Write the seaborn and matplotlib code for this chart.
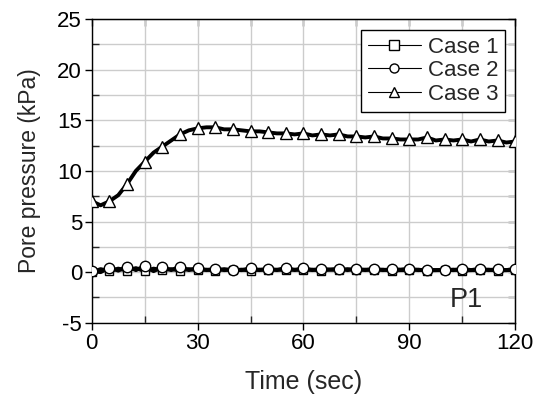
import numpy as np
import pandas as pd
import seaborn as sns
import matplotlib
matplotlib.use("Agg")
import matplotlib.pyplot as plt
from matplotlib.ticker import MultipleLocator

# ---- data ----
time_sec = [0, 2.5, 5, 7.5, 10, 12.5, 15, 17.5, 20, 22.5, 25, 27.5, 30, 32.5, 35, 37.5,
            40, 42.5, 45, 47.5, 50, 52.5, 55, 57.5, 60, 62.5, 65, 67.5, 70, 72.5, 75, 77.5,
            80, 82.5, 85, 87.5, 90, 92.5, 95, 97.5, 100, 102.5, 105, 107.5, 110, 112.5,
            115, 117.5, 120]

case1 = [0.0, 0.3, 0.1, 0.35, 0.15, 0.4, 0.1, 0.35, 0.2, 0.3, 0.15, 0.3, 0.2, 0.25, 0.15, 0.3,
         0.2, 0.25, 0.15, 0.25, 0.2, 0.25, 0.2, 0.25, 0.2, 0.25, 0.15, 0.25, 0.2, 0.3, 0.2, 0.25,
         0.2, 0.25, 0.15, 0.2, 0.2, 0.25, 0.15, 0.2, 0.2, 0.25, 0.15, 0.2, 0.2, 0.25,
         0.15, 0.2, 0.2]

case2 = [0.1, 0.0, 0.45, 0.15, 0.55, 0.2, 0.6, 0.1, 0.5, 0.2, 0.55, 0.2, 0.4, 0.2, 0.35, 0.2,
         0.25, 0.2, 0.4, 0.2, 0.35, 0.2, 0.45, 0.2, 0.4, 0.2, 0.35, 0.25, 0.35, 0.2, 0.35, 0.2,
         0.35, 0.2, 0.3, 0.25, 0.35, 0.2, 0.25, 0.2, 0.25, 0.2, 0.35, 0.2, 0.35, 0.2,
         0.3, 0.2, 0.35]

case3 = [7.0, 6.6, 7.0, 7.6, 8.7, 10.0, 10.9, 11.8, 12.4, 13.0, 13.6, 14.0, 14.2, 14.3, 14.3, 14.1,
         14.1, 14.0, 13.9, 13.9, 13.8, 13.7, 13.7, 13.6, 13.7, 13.5, 13.6, 13.5, 13.6, 13.4, 13.4, 13.3,
         13.4, 13.2, 13.2, 13.1, 13.1, 13.1, 13.3, 13.0, 13.1, 13.0, 13.1, 12.9, 13.1, 12.9,
         13.0, 12.8, 12.9]

labels = ["Case 1", "Case 2", "Case 3"]
markers = ["s", "o", "^"]
x_ticks = [0, 30, 60, 90, 120]
y_ticks = [-5, 0, 5, 10, 15, 20, 25]

df = pd.DataFrame({"time": time_sec, "Case 1": case1, "Case 2": case2, "Case 3": case3})

# ---- style ----
sns.set_style("ticks")
plt.rcParams["font.family"] = ["Liberation Sans", "DejaVu Sans"]
plt.rcParams["axes.unicode_minus"] = False

fig = plt.figure(figsize=(5.4, 4.03), dpi=100)
ax = fig.add_axes([0.170, 0.199, 0.784, 0.754])

msizes = {"s": 6, "o": 7.5, "^": 8.5}
for lab, mk in zip(labels, markers):
    sns.lineplot(data=df, x="time", y=lab, ax=ax, color="black", linewidth=2.8,
                 marker=mk, markersize=msizes[mk], markerfacecolor="white",
                 markeredgecolor="black", markeredgewidth=1.0, markevery=2,
                 label=lab, zorder=3)

ax.set_xlim(0, 120)
ax.set_ylim(-5, 25)
ax.set_xticks(x_ticks)
ax.set_yticks(y_ticks)
ax.xaxis.set_minor_locator(MultipleLocator(15))
ax.yaxis.set_minor_locator(MultipleLocator(2.5))

ax.grid(True, which="both", color="#cccccc", linewidth=1.0, zorder=0)
ax.set_axisbelow(True)

for sp in ax.spines.values():
    sp.set_color("black")
    sp.set_linewidth(1.0)

ax.tick_params(axis="both", which="major", direction="out", length=5, width=1,
               labelsize=16, pad=2, colors="black", top=False, right=False)
ax.tick_params(axis="both", which="minor", direction="in", length=5, width=1,
               top=False, right=False)

# inward ticks on top and right
ax_t = ax.secondary_xaxis("top")
ax_t.set_xticks(x_ticks)
ax_t.xaxis.set_minor_locator(MultipleLocator(15))
ax_t.tick_params(which="both", direction="in", length=5, width=1, labeltop=False)
ax_r = ax.secondary_yaxis("right")
ax_r.set_yticks(y_ticks)
ax_r.yaxis.set_minor_locator(MultipleLocator(2.5))
ax_r.tick_params(which="both", direction="in", length=5, width=1, labelright=False)

ax.set_xlabel("Time (sec)", fontsize=18, labelpad=12)
ax.set_ylabel("Pore pressure (kPa)", fontsize=16.5, labelpad=12)

ax.text(0.885, 0.075, "P1", transform=ax.transAxes, fontsize=19.5,
        ha="center", va="center", zorder=5)

leg = ax.legend(loc="upper right", bbox_to_anchor=(0.976, 0.964), borderaxespad=0,
                fontsize=16, frameon=True, fancybox=False, edgecolor="black",
                framealpha=1, handlelength=2.4, labelspacing=0.12, handletextpad=0.3,
                borderpad=0.3)
leg.get_frame().set_linewidth(1.0)
for h in leg.get_lines():
    h.set_linewidth(0.8)
    h.set_markersize(6.5)

fig.savefig("out.png", dpi=100)
